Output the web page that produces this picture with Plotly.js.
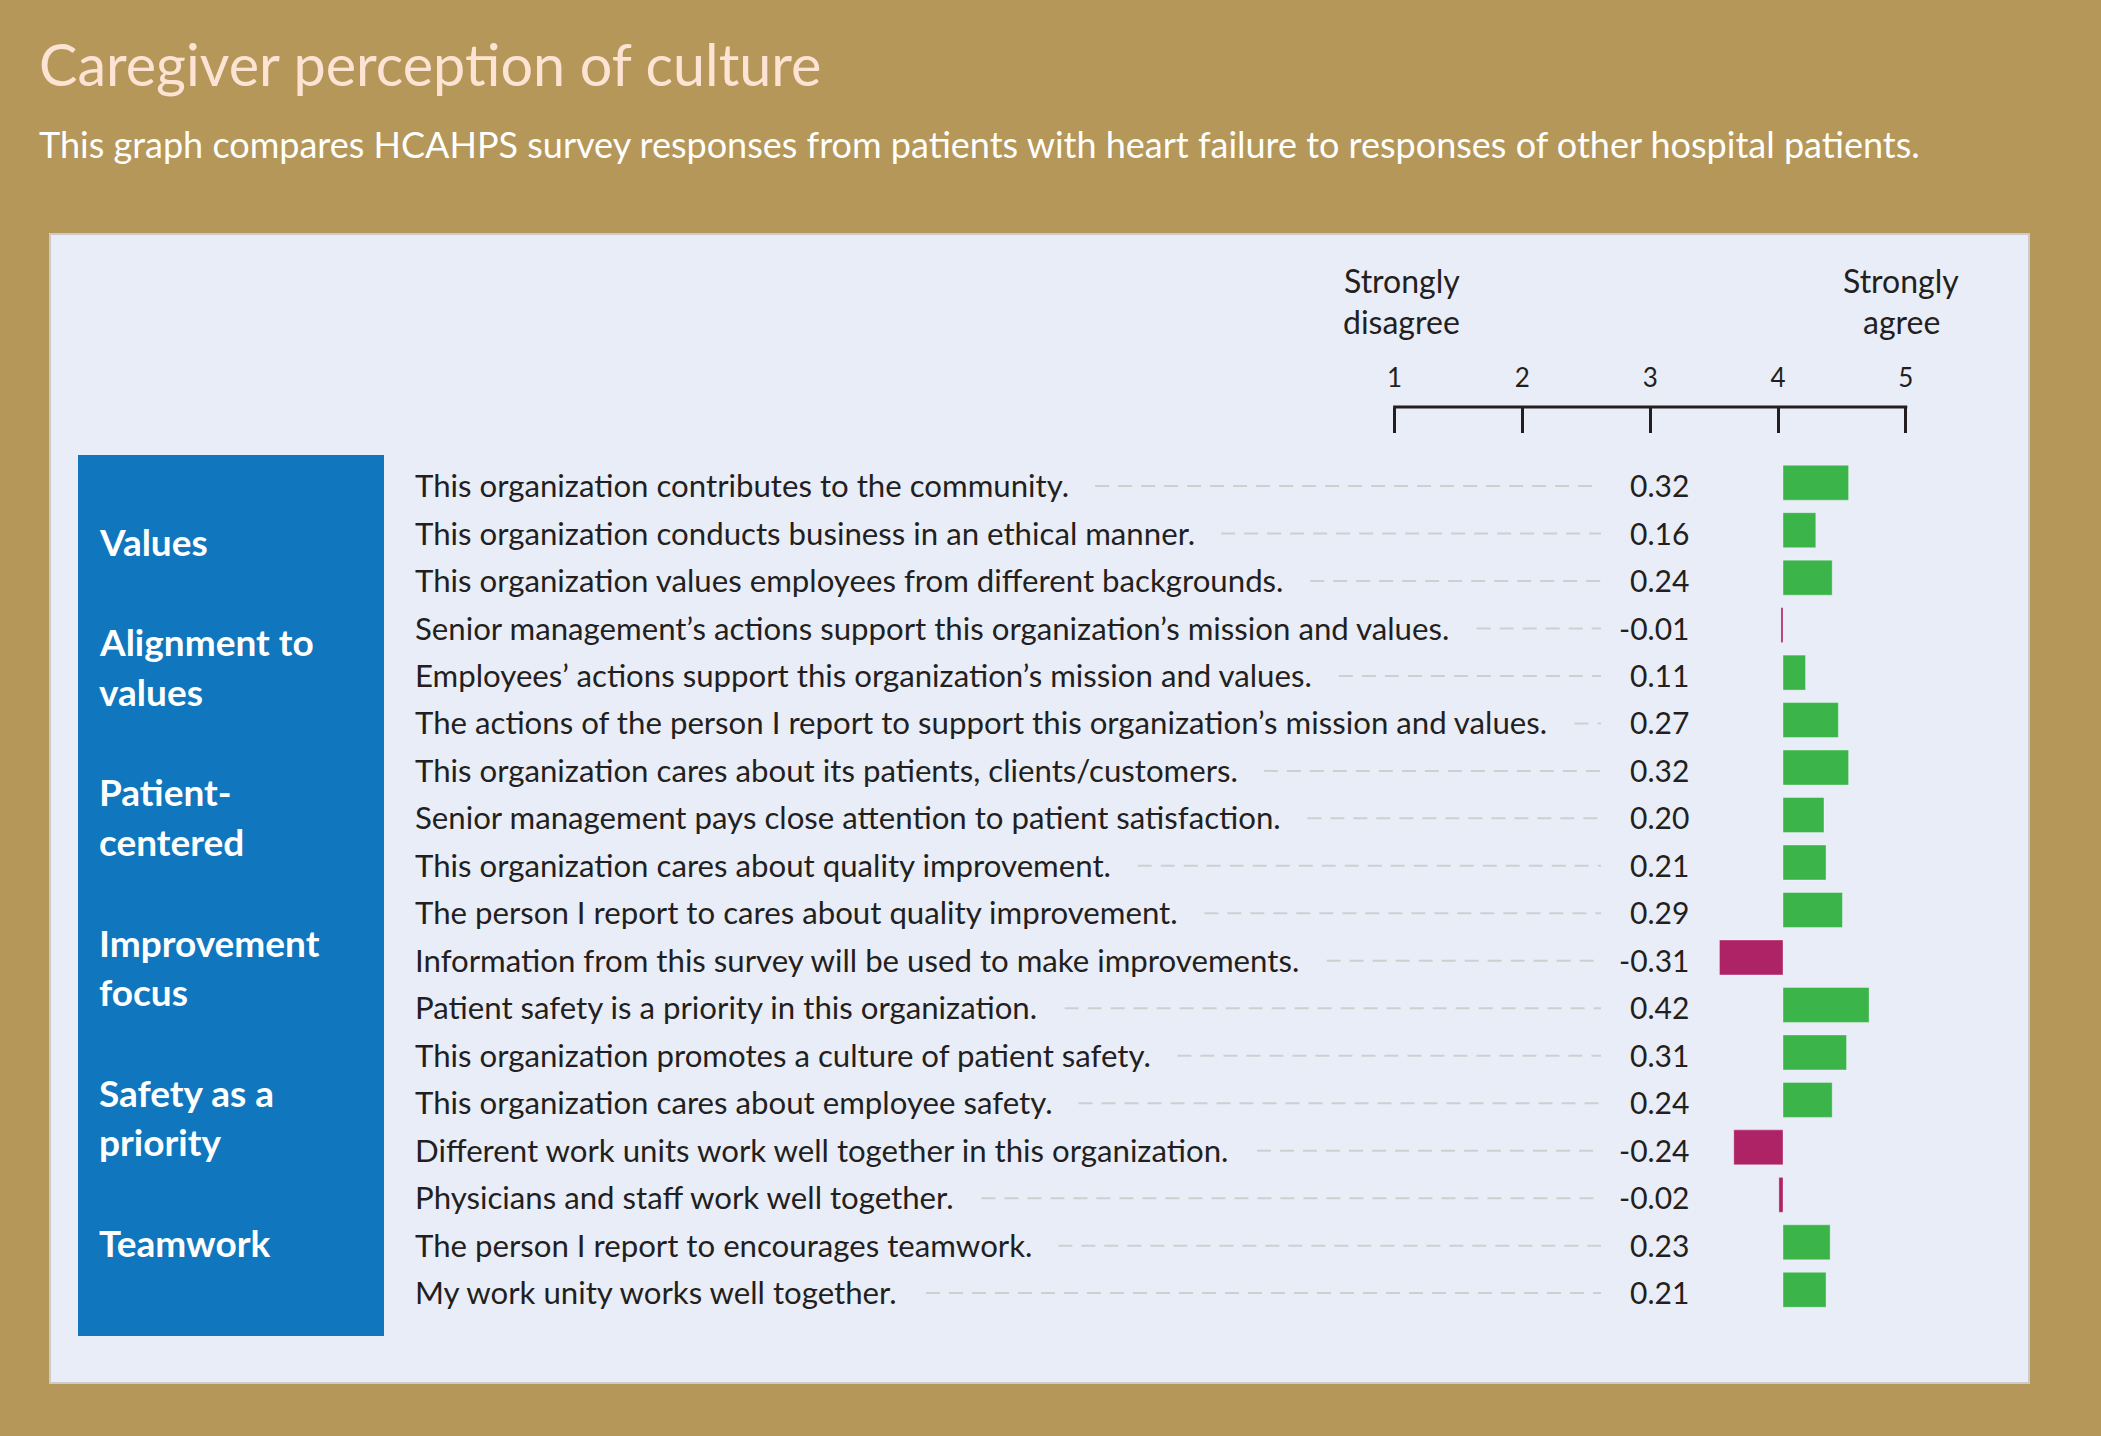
<!DOCTYPE html>
<html>
<head>
<meta charset="utf-8">
<script src="https://cdn.plot.ly/plotly-3.0.1.min.js"></script>
<style>html,body{margin:0;padding:0;background:#b5975a;}#chart{width:2101px;height:1436px;}</style>
</head>
<body>
<div id="chart"></div>
<script>
// ---- data ----
const questions = [
  "This organization contributes to the community.",
  "This organization conducts business in an ethical manner.",
  "This organization values employees from different backgrounds.",
  "Senior management\u2019s actions support this organization\u2019s mission and values.",
  "Employees\u2019 actions support this organization\u2019s mission and values.",
  "The actions of the person I report to support this organization\u2019s mission and values.",
  "This organization cares about its patients, clients/customers.",
  "Senior management pays close attention to patient satisfaction.",
  "This organization cares about quality improvement.",
  "The person I report to cares about quality improvement.",
  "Information from this survey will be used to make improvements.",
  "Patient safety is a priority in this organization.",
  "This organization promotes a culture of patient safety.",
  "This organization cares about employee safety.",
  "Different work units work well together in this organization.",
  "Physicians and staff work well together.",
  "The person I report to encourages teamwork.",
  "My work unity works well together."
];
const diffs = [0.32, 0.16, 0.24, -0.01, 0.11, 0.27, 0.32, 0.20, 0.21, 0.29, -0.31, 0.42, 0.31, 0.24, -0.24, -0.02, 0.23, 0.21];
const groupLabels = [["Values"], ["Alignment to", "values"], ["Patient-", "centered"], ["Improvement", "focus"], ["Safety as a", "priority"], ["Teamwork"]];
const scaleTicks = [1, 2, 3, 4, 5];
const scaleTickText = ["1", "2", "3", "4", "5"];
const scaleEnds = [["Strongly", "disagree"], ["Strongly", "agree"]];
const titleText = "Caregiver perception of culture";
const subtitleText = "This graph compares HCAHPS survey responses from patients with heart failure to responses of other hospital patients.";

// ---- geometry (pixels) ----
const W = 2101, H = 1436;
const px = x => x / W;
const py = y => 1 - y / H;
const FONT = "Lato, 'Open Sans', sans-serif";
const DARK = "#231f20";
const GREEN = "#3bb54a", MAGENTA = "#ae2366";

const zeroPx = 1783, pxPerUnit = 205;
const barDom = [1690, 2000];
const rowTop = 482.7, rowPitch = 47.476;
const yDom = [440, 1340];

const qSize = 31.2, qLeft = 413;
const ctx = document.createElement("canvas").getContext("2d");
ctx.font = qSize + "px Lato";

const annotations = [];
const shapes = [];

// panel & category box
shapes.push({type: "rect", xref: "paper", yref: "paper", x0: px(50), x1: px(2029), y0: py(1383), y1: py(234),
  fillcolor: "#e9edf8", line: {color: "#cbcbcb", width: 2}, layer: "below"});
shapes.push({type: "rect", xref: "paper", yref: "paper", x0: px(78), x1: px(384), y0: py(1336), y1: py(455),
  fillcolor: "#1076bd", line: {width: 0}, layer: "below"});

annotations.push({text: titleText, xref: "paper", yref: "paper", x: px(37), y: py(63), xanchor: "left", yanchor: "middle",
  showarrow: false, font: {family: FONT, size: 57.5, color: "#fde3d4", weight: 400}});
annotations.push({text: subtitleText, xref: "paper", yref: "paper", x: px(37), y: py(144), xanchor: "left", yanchor: "middle",
  showarrow: false, font: {family: FONT, size: 36, color: "#ffffff"}});

questions.forEach((q, i) => {
  annotations.push({text: q, xref: "paper", yref: "y", x: px(qLeft), y: i + 0.05, xanchor: "left", yanchor: "middle",
    showarrow: false, font: {family: FONT, size: qSize, color: DARK}});
  annotations.push({text: diffs[i].toFixed(2), xref: "paper", yref: "y", x: px(1691), y: i + 0.05, xanchor: "right", yanchor: "middle",
    showarrow: false, font: {family: FONT, size: 30, color: DARK}});
  const w = ctx.measureText(q).width;
  shapes.push({type: "line", xref: "paper", yref: "y", x0: px(qLeft + w + 28), x1: px(1601), y0: i + 0.07, y1: i + 0.07,
    line: {color: "#cfcfcf", width: 2, dash: "14px,9px"}, layer: "below"});
});

const groupFirstLine = [541, 641.8, 791.9, 942, 1092, 1242];
const groupLineStep = 49.6;
groupLabels.forEach((lines, g) => {
  lines.forEach((t, j) => {
    annotations.push({text: t, xref: "paper", yref: "paper", x: px(97), y: py(groupFirstLine[g] + j * groupLineStep),
      xanchor: "left", yanchor: "middle", showarrow: false, font: {family: FONT, size: 37, color: "#ffffff", weight: 700}});
  });
});

const endX = [1401.5, 1901];
scaleEnds.forEach((lines, k) => {
  lines.forEach((t, j) => {
    annotations.push({text: t, xref: "paper", yref: "paper", x: px(endX[k]), y: py(281 + j * 40.6),
      xanchor: "center", yanchor: "middle", showarrow: false, font: {family: FONT, size: 32, color: DARK}});
  });
});

// scale axis baseline, drawn in the scale axis' own coordinates
const scalePxPerUnit = 127.8;
const capUnits = 1.5 / scalePxPerUnit;
shapes.push({type: "line", xref: "x2", yref: "paper",
  x0: scaleTicks[0] - capUnits, x1: scaleTicks[scaleTicks.length - 1] + capUnits, y0: py(407), y1: py(407),
  line: {color: DARK, width: 3}});

const traces = [
  {type: "bar", orientation: "h", x: diffs, y: questions, width: 0.737,
   marker: {color: diffs.map(v => v >= 0 ? GREEN : MAGENTA), line: {width: 1, color: "rgba(255,255,255,0.35)"}},
   hoverinfo: "skip", xaxis: "x", yaxis: "y"},
  {type: "scatter", mode: "markers", x: scaleTicks, y: scaleTicks.map(() => questions[0]), marker: {opacity: 0},
   hoverinfo: "skip", xaxis: "x2", yaxis: "y"}
];

const eps = 0.05;
const layout = {
  width: W, height: H, margin: {l: 0, r: 0, t: 0, b: 0},
  paper_bgcolor: "#b5975a", plot_bgcolor: "rgba(0,0,0,0)", showlegend: false,
  xaxis: {domain: [px(barDom[0]), px(barDom[1])], range: [(barDom[0] - zeroPx) / pxPerUnit, (barDom[1] - zeroPx) / pxPerUnit],
    visible: false, fixedrange: true},
  yaxis: {domain: [py(yDom[1]), py(yDom[0])], type: "category", categoryorder: "array", categoryarray: questions,
    range: [(yDom[1] - rowTop) / rowPitch, (yDom[0] - rowTop) / rowPitch], visible: false, fixedrange: true},
  xaxis2: {domain: [px(1394.6 - eps * scalePxPerUnit), px(1905.8 + eps * scalePxPerUnit)], range: [1 - eps, 5 + eps],
    anchor: "free", position: py(407), side: "top",
    ticks: "inside", ticklen: 25, tickwidth: 3, tickcolor: DARK, showline: false,
    tickvals: scaleTicks, ticktext: scaleTickText, tickfont: {family: FONT, size: 26, color: DARK},
    ticklabelstandoff: 15, showgrid: false, zeroline: false, fixedrange: true},
  shapes: shapes, annotations: annotations
};

Plotly.newPlot("chart", traces, layout, {staticPlot: true, displayModeBar: false});
</script>
</body>
</html>
